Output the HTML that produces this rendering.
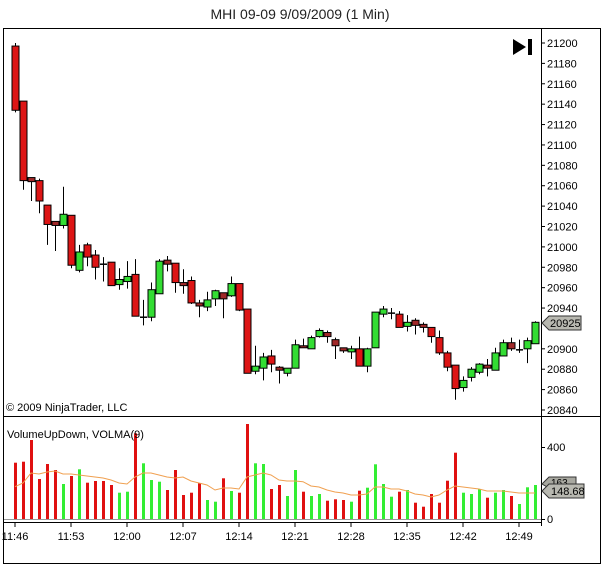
<!DOCTYPE html>
<html><head><meta charset="utf-8"><style>
html,body{margin:0;padding:0;background:#fff;}
svg{display:block;font-family:"Liberation Sans",sans-serif;}
</style></head><body>
<svg width="603" height="566" viewBox="0 0 603 566" xmlns="http://www.w3.org/2000/svg">
<rect width="603" height="566" fill="#fff"/>
<text x="300" y="19" font-size="14" text-anchor="middle" fill="#222">MHI 09-09  9/09/2009 (1 Min)</text>
<rect x="3.5" y="28.5" width="597" height="535" fill="none" stroke="#000"/>
<line x1="3" y1="416.5" x2="601" y2="416.5" stroke="#000"/>
<line x1="541.5" y1="28" x2="541.5" y2="526" stroke="#000"/>
<line x1="4" y1="522.5" x2="541" y2="522.5" stroke="#000"/>
<line x1="4" y1="519.5" x2="541" y2="519.5" stroke="#999"/>
<polygon points="513,39 513,55 526,47" fill="#000"/>
<rect x="528" y="39" width="4" height="16" fill="#000"/>
<g id="pax" font-size="11" fill="#000"></g>
<g id="tax" font-size="11" fill="#000"></g>
<g id="c"></g>
<g id="v"></g>
<polyline id="ma" fill="none" stroke="#f0a050" stroke-width="1"/>
<text x="6" y="411" font-size="11" fill="#000">© 2009 NinjaTrader, LLC</text>
<text x="7" y="438" font-size="11" fill="#000">VolumeUpDown, VOLMA(9)</text>
<line x1="541" y1="447.5" x2="545" y2="447.5" stroke="#000"/>
<text x="547" y="451" font-size="11">400</text>
<line x1="541" y1="519.5" x2="545" y2="519.5" stroke="#000"/>
<text x="547" y="523" font-size="11">0</text>
<polygon points="542,484 549,477 576,477 576,488 549,488" fill="#a8a8a0" stroke="#333"/>
<text x="551" y="486" font-size="10">163</text>
<polygon points="542,491 549,484 584,484 584,498 549,498" fill="#b8b8b0" stroke="#333"/>
<text x="551" y="495" font-size="11">148.68</text>
<polygon points="542,323 549,316 581,316 581,330 549,330" fill="#b8b8b0" stroke="#333"/>
<text x="550" y="327" font-size="11">20925</text>
</svg>
<script>
const NS="http://www.w3.org/2000/svg";
function el(p,t,a){const e=document.createElementNS(NS,t);for(const k in a)e.setAttribute(k,a[k]);p.appendChild(e);return e;}
const py=p=>43+(21200-p)*1.0194;
const pax=document.getElementById("pax");
for(let p=20840;p<=21200;p+=20){const y=py(p);if(p==20920)continue;
el(pax,"line",{x1:541,y1:y,x2:545,y2:y,stroke:"#000"});
const t=el(pax,"text",{x:547,y:y+4});t.textContent=p;}
const tax=document.getElementById("tax");
["11:46","11:53","12:00","12:07","12:14","12:21","12:28","12:35","12:42","12:49"].forEach((s,i)=>{const x=15+i*56;
el(tax,"line",{x1:x,y1:522,x2:x,y2:527,stroke:"#000"});
const t=el(tax,"text",{x:x,y:540,"text-anchor":"middle"});t.textContent=s;});
// O C H L
const C=[[21197,21134,21200,21132],[21143,21065,21143,21056],[21068,21064,21068,21045],[21065,21045,21067,21033],[21041,21022,21041,21002],[21025,21021,21025,20996],[21021,21032,21059,21018],[21031,20982,21031,20979],[20977,20995,21002,20975],[21002,20990,21004,20981],[20992,20980,20997,20968],[20983,20983,20990,20966],[20985,20962,20985,20962],[20963,20968,20979,20958],[20966,20971,20986,20959],[20973,20932,20988,20932],[20931,20931,20948,20923],[20931,20958,20965,20927],[20954,20986,20988,20954],[20987,20983,20991,20976],[20984,20965,20984,20955],[20965,20962,20978,20954],[20967,20945,20971,20944],[20945,20942,20948,20931],[20941,20948,20956,20937],[20949,20957,20958,20942],[20955,20949,20955,20930],[20952,20964,20971,20951],[20964,20938,20964,20937],[20939,20876,20939,20876],[20878,20883,20903,20875],[20881,20892,20896,20869],[20893,20885,20899,20877],[20882,20879,20883,20866],[20876,20881,20881,20873],[20881,20904,20909,20881],[20903,20901,20910,20901],[20900,20911,20913,20900],[20912,20918,20920,20911],[20916,20912,20918,20906],[20909,20903,20911,20890],[20901,20898,20901,20896],[20897,20900,20903,20890],[20900,20883,20912,20883],[20883,20900,20901,20877],[20901,20936,20936,20901],[20934,20939,20942,20931],[20935,20934,20940,20929],[20934,20921,20937,20921],[20922,20926,20933,20917],[20928,20923,20930,20914],[20924,20921,20926,20916],[20921,20912,20921,20906],[20911,20896,20918,20894],[20896,20882,20898,20878],[20884,20861,20884,20850],[20862,20869,20873,20858],[20872,20880,20882,20868],[20877,20885,20886,20875],[20884,20881,20890,20873],[20879,20896,20901,20879],[20893,20906,20909,20893],[20906,20900,20911,20898],[20899,20898,20909,20896],[20900,20908,20911,20886],[20905,20926,20927,20905]];
const g=document.getElementById("c");
C.forEach((c,i)=>{const x=15+i*8;const [o,cl,h,l]=c;
el(g,"line",{x1:x+.5,y1:py(h),x2:x+.5,y2:py(l),stroke:"#000"});
let top=py(Math.max(o,cl)),bot=py(Math.min(o,cl));if(bot-top<1.5){el(g,"line",{x1:x-3,y1:top,x2:x+4,y2:top,stroke:"#000","stroke-width":1.5});return;}
const small=Math.abs(o-cl)<=6;
const col=cl>o?"#33dd33":(small?"#a02828":"#dd1515");
el(g,"rect",{x:x-3,y:top,width:7,height:bot-top,fill:col,stroke:"#000","stroke-width":1});});
const V=[[462.7,0],[461.7,0],[440,0],[479,0],[464,0],[470,0],[484,1],[476,0],[469.3,1],[482.7,0],[481,0],[481,0],[485,0],[492.7,1],[491.7,1],[433.3,0],[463.3,1],[480,1],[481.7,1],[490,0],[470,0],[495,0],[492.7,0],[483.3,0],[500,1],[501.7,1],[478.3,0],[491,1],[492.7,0],[424,0],[463.3,1],[464,1],[489,0],[485,0],[496,1],[470,1],[491.7,0],[496,1],[494,1],[500.7,0],[499.3,0],[500,0],[501.7,1],[490.7,0],[487.7,1],[464.3,1],[484,1],[496.7,1],[491.7,0],[490,1],[502.7,0],[506.7,0],[494,0],[502.7,0],[480.7,0],[452.7,0],[492.7,1],[494,1],[489.3,1],[497.7,0],[492.7,1],[490,1],[496,0],[504,1],[487.3,1],[485,1]];
const vg=document.getElementById("v");
V.forEach((v,i)=>{const x=15+i*8;el(vg,"rect",{x:x-1,y:v[0],width:3,height:519-v[0],fill:v[1]?"#33ee33":"#e01010"});});
const M=[486.7,483,473,474,472,471,474,474,475,476,477,478,480,483,484,477,473,473,475,477,478,477,481,483,485,490,488,488,489,477,475,473,475,480,481,481,481.7,486,487,490,492,493,495,495,494,487,487,489,489,491,494,495,497,495,490,486,487,488,489,491,491,491,492,493,493,493];
document.getElementById("ma").setAttribute("points",M.map((y,i)=>(15+i*8)+","+y).join(" "));
</script>
</body></html>
